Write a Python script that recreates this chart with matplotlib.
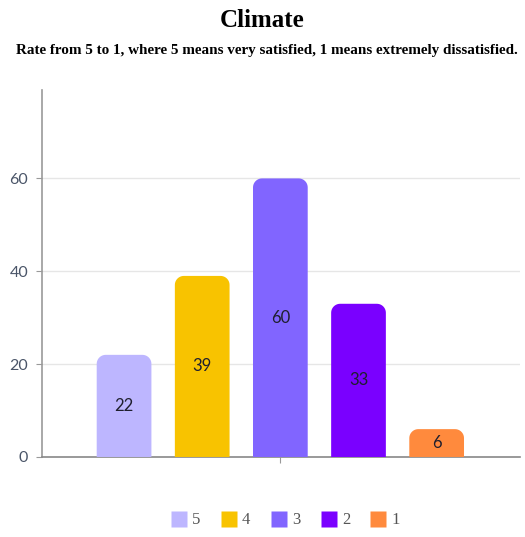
#!/usr/bin/env python3

import numpy as np
import matplotlib
matplotlib.use("Agg")
import matplotlib.pyplot as plt
from matplotlib.patches import PathPatch
from matplotlib.path import Path
from matplotlib.lines import Line2D

categories = ["5", "4", "3", "2", "1"]
counts = [22, 39, 60, 33, 6]
colors = ["#bdb6ff", "#f8c300", "#8165ff", "#7a00ff", "#ff8a3d"]
yticks = [0, 20, 40, 60]

BAR_W = 0.70
RADIUS_PX = 9
XLIM = (-1.05, 5.07)
YLIM = (0, 79)


def top_rounded_bar(left, width, height, rx, ry):
    # outline of a bar with only its top corners rounded
    ry = min(ry, height)
    t = np.linspace(np.pi, np.pi / 2, 12)
    left_arc = np.column_stack([left + rx + rx * np.cos(t), height - ry + ry * np.sin(t)])
    t = np.linspace(np.pi / 2, 0, 12)
    right_arc = np.column_stack([left + width - rx + rx * np.cos(t), height - ry + ry * np.sin(t)])
    verts = np.vstack([[left, 0], left_arc, right_arc, [left + width, 0], [left, 0]])
    codes = [Path.MOVETO] + [Path.LINETO] * (len(verts) - 2) + [Path.CLOSEPOLY]
    return Path(verts, codes)


fig = plt.figure(figsize=(5.25, 5.37), dpi=100)
ax = fig.add_axes([0.080, 0.149, 0.911, 0.683])
ax.set_xlim(*XLIM)
ax.set_ylim(*YLIM)

bbox = ax.get_window_extent()
rx = RADIUS_PX * (XLIM[1] - XLIM[0]) / bbox.width
ry = RADIUS_PX * (YLIM[1] - YLIM[0]) / bbox.height

for i, (val, col) in enumerate(zip(counts, colors)):
    path = top_rounded_bar(i - BAR_W / 2, BAR_W, val, rx, ry)
    ax.add_patch(PathPatch(path, facecolor=col, edgecolor="none", zorder=3))
    ax.text(i, val / 2, str(val), ha="center", va="center",
            fontsize=12, color="#1f1f2e", family="Lato", zorder=4)

ax.set_yticks(yticks)
ax.set_yticklabels([str(t) for t in yticks], family="Lato", fontsize=11.5, color="#4a5568")
ax.set_xticks([2])
ax.set_xticklabels([""])
ax.tick_params(axis="y", length=4, color="#999999", pad=6)
ax.tick_params(axis="x", length=4, color="#999999")
ax.yaxis.grid(True, color="#e6e6e6", linewidth=1, zorder=0)
ax.set_axisbelow(True)

for side in ["top", "right"]:
    ax.spines[side].set_visible(False)
ax.spines["left"].set_color("#999999")
ax.spines["bottom"].set_color("#888888")
ax.spines["left"].set_linewidth(1.2)
ax.spines["bottom"].set_linewidth(1.2)

fig.text(0.5, 0.962, "Climate", ha="center", va="center",
         family="Liberation Serif", fontweight="bold", fontsize=18)
fig.text(0.508, 0.906, "Rate from 5 to 1, where 5 means very satisfied, 1 means extremely dissatisfied.",
         ha="center", va="center", family="Liberation Serif", fontweight="bold", fontsize=10.9)

handles = [Line2D([], [], marker="s", linestyle="none", markersize=12,
                  markerfacecolor=c, markeredgecolor="none") for c in colors]
fig.legend(handles, categories, loc="center", bbox_to_anchor=(0.54, 0.031),
           ncol=5, frameon=False, handletextpad=0.1, columnspacing=1.0,
           handlelength=1.4, labelcolor="#555555",
           prop={"family": "Liberation Serif", "size": 12})

fig.savefig("out.png", dpi=100)
